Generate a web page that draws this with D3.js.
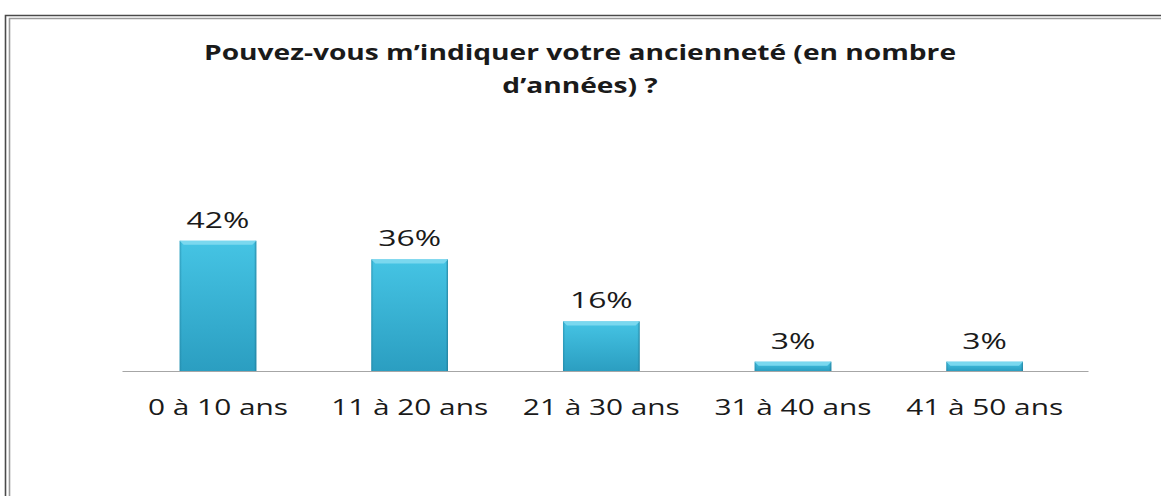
<!DOCTYPE html>
<html>
<head>
<meta charset="utf-8">
<script src="https://cdn.jsdelivr.net/npm/d3@7"></script>
<style>
  body { margin: 0; background: #fff; }
  svg { display: block; }
  text { font-family: "Open Sans", sans-serif; fill: #1a1a1a; }
</style>
</head>
<body>
<div id="container"></div>
<script>
// data
const categories = ["0 à 10 ans", "11 à 20 ans", "21 à 30 ans", "31 à 40 ans", "41 à 50 ans"];
const values = [0.42, 0.36, 0.16, 0.03, 0.03];
const titleLines = ["Pouvez-vous m’indiquer votre ancienneté (en nombre", "d’années) ?"];

const w = 1161, h = 496;

const svg = d3.select("#container").append("svg")
  .attr("width", w).attr("height", h);

// gradient for the bars
const defs = svg.append("defs");
const grad = defs.append("linearGradient").attr("id", "barGrad")
  .attr("x1", 0).attr("y1", 0).attr("x2", 0).attr("y2", 1);
grad.append("stop").attr("offset", "0%").attr("stop-color", "#45c4e4");
grad.append("stop").attr("offset", "100%").attr("stop-color", "#2b9ec1");

const side = defs.append("linearGradient").attr("id", "sideGrad")
  .attr("x1", 0).attr("y1", 0).attr("x2", 1).attr("y2", 0);
side.append("stop").attr("offset", "0%").attr("stop-color", "#1f7f9d").attr("stop-opacity", 0.55);
side.append("stop").attr("offset", "3%").attr("stop-color", "#1f7f9d").attr("stop-opacity", 0);
side.append("stop").attr("offset", "97%").attr("stop-color", "#1f7f9d").attr("stop-opacity", 0);
side.append("stop").attr("offset", "100%").attr("stop-color", "#1f6f8a").attr("stop-opacity", 0.7);

// double frame (top and left only visible)
svg.append("path").attr("d", "M5.5,496 V15.5 H1161").attr("fill", "none")
  .attr("stroke", "#4a4a4a").attr("stroke-width", 1.6);
svg.append("path").attr("d", "M9.5,496 V18.5 H1161").attr("fill", "none")
  .attr("stroke", "#9a9a9a").attr("stroke-width", 1.6);

// scales
const x = d3.scaleBand().domain(categories).range([122, 1088])
  .paddingInner(0.6).paddingOuter(0.32).align(0.47);
const y = d3.scaleLinear().domain([0, 0.5]).range([371, 216]);

// title
titleLines.forEach((t, i) => {
  svg.append("text")
    .attr("transform", "translate(580," + (60 + i * 33) + ") scale(1.34,1)")
    .attr("text-anchor", "middle")
    .style("font-size", "21px").style("font-weight", "700")
    .text(t);
});

// bars
const bars = svg.append("g").selectAll("g").data(values).enter().append("g");
bars.append("rect")
  .attr("x", (d, i) => x(categories[i]))
  .attr("y", d => y(d))
  .attr("width", x.bandwidth())
  .attr("height", d => y(0) - y(d))
  .attr("fill", "url(#barGrad)");
bars.append("rect")
  .attr("x", (d, i) => x(categories[i]))
  .attr("y", d => y(d))
  .attr("width", x.bandwidth())
  .attr("height", d => y(0) - y(d))
  .attr("fill", "url(#sideGrad)");
// bevelled top edge
bars.append("polygon")
  .attr("points", (d, i) => {
    const x0 = x(categories[i]), x1 = x0 + x.bandwidth(), t = y(d), b = 4;
    return [[x0, t], [x1, t], [x1 - b, t + b], [x0 + b, t + b]].join(" ");
  })
  .attr("fill", "#7ad8ef");

// axis line
const xAxis = d3.axisBottom(x).tickSize(0).tickFormat("");
svg.append("g").attr("transform", "translate(0," + y(0) + ")").call(xAxis)
  .call(g => g.select(".domain").attr("stroke", "#a6a6a6").attr("stroke-width", 1.2));

// value labels
bars.append("text")
  .attr("transform", (d, i) => "translate(" + (x(categories[i]) + x.bandwidth() / 2) + "," + (y(d) - 13) + ") scale(1.45,1)")
  .attr("text-anchor", "middle")
  .style("font-size", "22px")
  .text(d => Math.round(d * 100) + "%");

// category labels
svg.append("g").selectAll("text").data(categories).enter().append("text")
  .attr("transform", d => "translate(" + (x(d) + x.bandwidth() / 2) + ",415) scale(1.42,1)")
  .attr("text-anchor", "middle")
  .style("font-size", "21px")
  .text(d => d);
</script>
</body>
</html>
